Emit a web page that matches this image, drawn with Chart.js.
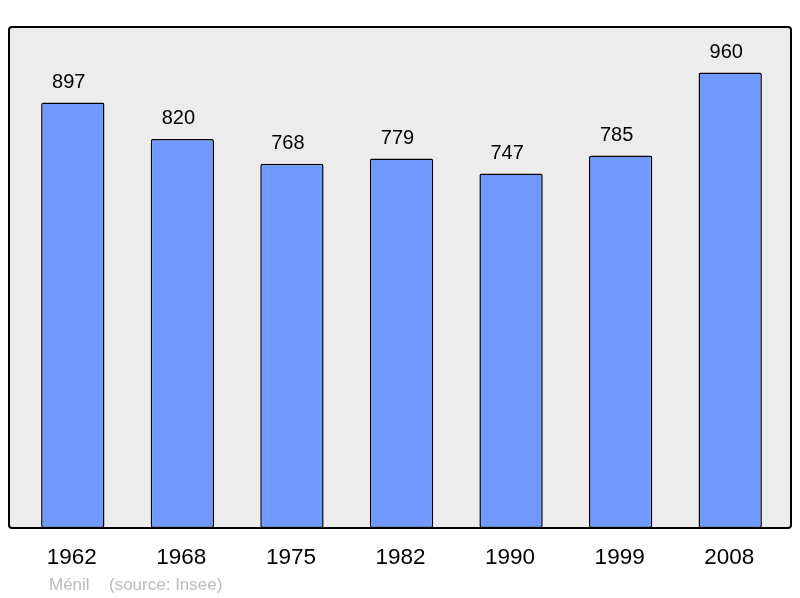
<!DOCTYPE html>
<html lang="fr">
<head>
<meta charset="UTF-8">
<title>Ménil - population</title>
<script src="https://cdn.jsdelivr.net/npm/chart.js"></script>
<style>
    html, body { margin: 0; padding: 0; background: #fff; }
    #wrap { width: 800px; height: 598px; }
</style>
</head>
<body>
<div id="wrap"><canvas id="bar-chart"></canvas></div>

<script>
    var annees = ['1962', '1968', '1975', '1982', '1990', '1999', '2008'];
    var population = [897, 820, 768, 779, 747, 785, 960];
    var yMax = 1056;

    // cadre gris + libellés
    var decor = {
        id: 'decor',
        beforeDraw: function(chart) {
            var ctx = chart.ctx, a = chart.chartArea;
            var x0 = a.left - 9, x1 = a.right + 6, y0 = a.top, y1 = a.bottom;
            ctx.save();
            ctx.beginPath();
            ctx.roundRect(x0, y0, x1 - x0, y1 - y0, 3);
            ctx.fillStyle = '#ececec';
            ctx.fill();
            ctx.lineWidth = 2;
            ctx.strokeStyle = '#000';
            ctx.stroke();
            ctx.restore();
        },
        afterDraw: function(chart) {
            var ctx = chart.ctx, a = chart.chartArea;
            var xs = chart.scales.x, ys = chart.scales.y;
            ctx.save();
            ctx.textAlign = 'center';
            ctx.textBaseline = 'middle';
            ctx.fillStyle = '#000';
            ctx.font = '20px "Liberation Sans", Arial, sans-serif';
            population.forEach(function(v, i) {
                ctx.fillText(String(v), xs.getPixelForValue(i) - 4, ys.getPixelForValue(v) - 20);
            });
            ctx.font = '22.5px "Liberation Sans", Arial, sans-serif';
            annees.forEach(function(l, i) {
                ctx.fillText(l, xs.getPixelForValue(i) - 1, a.bottom + 30);
            });
            ctx.textAlign = 'left';
            ctx.fillStyle = '#bbbbbb';
            ctx.font = '17px "Liberation Sans", Arial, sans-serif';
            ctx.fillText('Ménil', 49, a.bottom + 57);
            ctx.fillText('(source: Insee)', 109, a.bottom + 57);
            ctx.restore();
        }
    };

    var ctx = document.getElementById('bar-chart').getContext('2d');
    var chart = new Chart(ctx, {
        type: 'bar',
        data: {
            labels: annees,
            datasets: [{
                label: 'Population',
                data: population,
                backgroundColor: '#7099ff',
                borderColor: '#000',
                borderWidth: 1.5,
                borderRadius: 2,
                borderSkipped: false,
                barPercentage: 0.578,
                categoryPercentage: 1
            }]
        },
        options: {
            responsive: true,
            maintainAspectRatio: false,
            animation: false,
            layout: { padding: { left: 18, right: 15, top: 27, bottom: 70 } },
            plugins: { legend: { display: false }, tooltip: { enabled: false } },
            scales: {
                x: { display: false },
                y: { display: false, min: 0, max: yMax }
            }
        },
        plugins: [decor]
    });
</script>
</body>
</html>
